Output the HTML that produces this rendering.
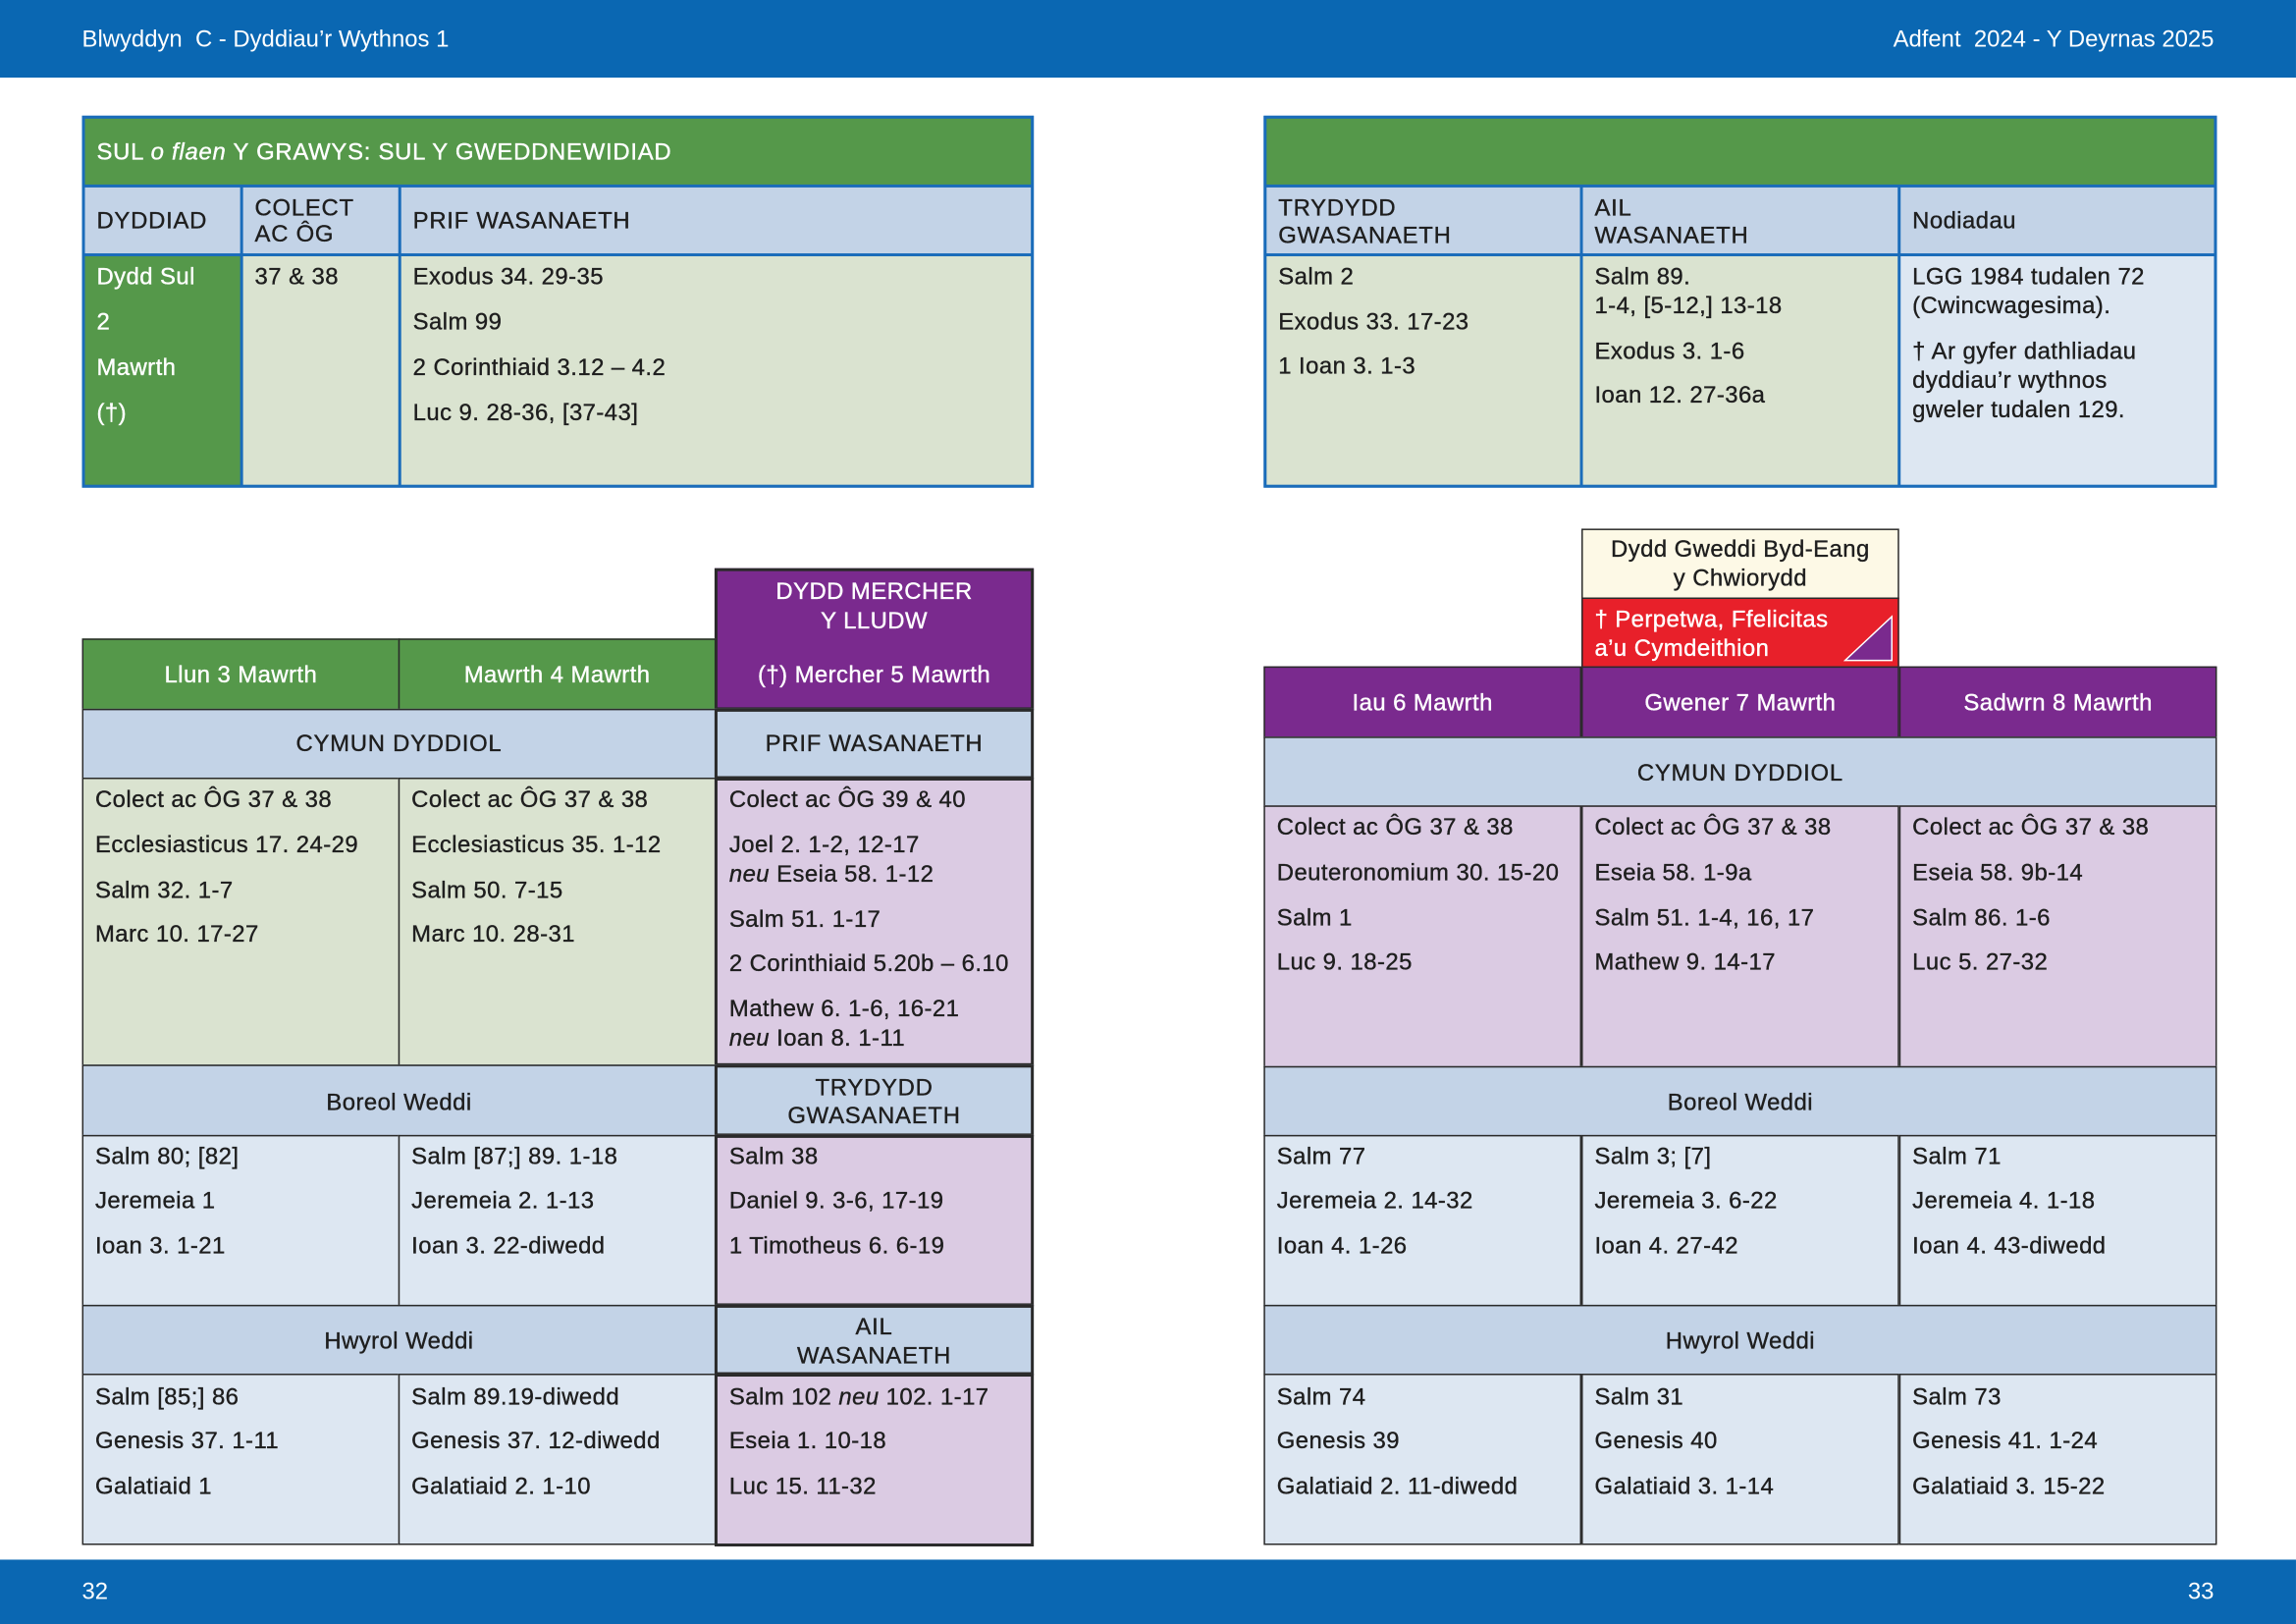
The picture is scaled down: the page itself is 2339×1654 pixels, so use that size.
<!DOCTYPE html>
<html><head><meta charset="utf-8"><style>
html,body{margin:0;padding:0;background:#fff;}
#page{position:relative;width:1568px;height:1109px;transform:scale(1.4917,1.4915);transform-origin:0 0;font-family:"Liberation Sans",sans-serif;color:#1e1e1e;overflow:hidden;}
.c{position:absolute;box-sizing:border-box;}
.t{position:absolute;left:8px;right:4px;font-size:16px;line-height:20px;white-space:nowrap;letter-spacing:0.3px;-webkit-text-stroke:0.25px currentColor;}
.ctr{text-align:center;left:0;right:0;}
.bar{position:absolute;left:0;width:1568px;background:#0a67b2;color:#fff;font-size:16px;}
</style></head><body>
<div id="page">
<div class="bar" style="top:0;height:53px">
 <span style="position:absolute;left:56px;top:19px">Blwyddyn&nbsp; C - Dyddiau’r Wythnos 1</span>
 <span style="position:absolute;right:56px;top:19px">Adfent&nbsp; 2024 - Y Deyrnas 2025</span>
</div>
<div class="bar" style="top:1065px;height:44px">
 <span style="position:absolute;left:56px;top:14px">32</span>
 <span style="position:absolute;right:56px;top:14px">33</span>
</div>
</div>
<script>
const G='#55984a',P='#7a2a8e',HB='#c3d3e7',LB='#dde7f2',LG='#dae3d0',LP='#dbcbe3',BL='#1a6cba',DK='#2a2a2a';
const page=document.getElementById('page');
function cell(x,y,w,h,bg,border,bw,lines,name,opts){
  opts=opts||{};
  const el=document.createElement('div');
  el.className='c';
  
  
  el.style.cssText+=`left:${x}px;top:${y}px;width:${w}px;height:${h}px;background:${bg};border:${bw}px solid ${border};`;
  (lines||[]).forEach(l=>{
    const s=document.createElement('div');
    s.className='t'+(opts.center?' ctr':'');
    
    
    s.style.top=(l[1]-y-8.5-bw)+'px';
    if(opts.color)s.style.color=opts.color;
    if(opts.ls)s.style.letterSpacing=opts.ls;
    s.innerHTML=l[0];
    el.appendChild(s);
  });
  page.appendChild(el);
  return el;
}
cell(56,79,650,254,BL,BL,2,[],'sunday-table');
cell(58,81,646,45,G,BL,0,[['SUL <i>o flaen</i> Y GRAWYS: SUL Y GWEDDNEWIDIAD',103]],'sunday-title',{color:'#fff',ls:'0.5px'});
cell(58,128,106,45,HB,BL,0,[['DYDDIAD',150]],'col-dyddiad',{ls:'0.5px'});
cell(166,128,106,45,HB,BL,0,[['COLECT',141],['AC ÔG',159]],'col-colect',{ls:'0.5px'});
cell(274,128,430,45,HB,BL,0,[['PRIF WASANAETH',150]],'col-prif',{ls:'0.5px'});
cell(58,175,106,156,G,BL,0,[['Dydd Sul',188],['2',219],['Mawrth',250],['(†)',281]],'sunday-date',{color:'#fff'});
cell(166,175,106,156,LG,BL,0,[['37 &amp; 38',188]],'sunday-collect');
cell(274,175,430,156,LG,BL,0,[['Exodus 34. 29-35',188],['Salm 99',219],['2 Corinthiaid 3.12 – 4.2',250],['Luc 9. 28-36, [37-43]',281]],'sunday-readings');
cell(863,79,651,254,BL,BL,2,[],'sunday-services-table');
cell(865,81,647,45,G,BL,0,[],'services-title');
cell(865,128,214,45,HB,BL,0,[['TRYDYDD',141],['GWASANAETH',160]],'col-trydydd',{ls:'0.5px'});
cell(1081,128,215,45,HB,BL,0,[['AIL',141],['WASANAETH',160]],'col-ail',{ls:'0.5px'});
cell(1298,128,214,45,HB,BL,0,[['Nodiadau',150]],'col-nodiadau');
cell(865,175,214,156,LG,BL,0,[['Salm 2',188],['Exodus 33. 17-23',219],['1 Ioan 3. 1-3',249]],'trydydd-readings');
cell(1081,175,215,156,LG,BL,0,[['Salm 89.',188],['1-4, [5-12,] 13-18',208],['Exodus 3. 1-6',239],['Ioan 12. 27-36a',269]],'ail-readings');
cell(1298,175,214,156,LB,BL,0,[['LGG 1984 tudalen 72',188],['(Cwincwagesima).',208],['† Ar gyfer dathliadau',239],['dyddiau’r wythnos',259],['gweler tudalen 129.',279]],'notes');
cell(488,388,218,97,P,DK,2,[['DYDD MERCHER',403],['Y LLUDW',423],['(†) Mercher 5 Mawrth',460]],'ash-wednesday-header',{center:true,color:'#fff'});
cell(56,436,217,49,G,DK,1,[['Llun 3 Mawrth',460]],'monday-header',{center:true,color:'#fff'});
cell(272,436,217,49,G,DK,1,[['Mawrth 4 Mawrth',460]],'tuesday-header',{center:true,color:'#fff'});
cell(56,484,433,48,HB,DK,1,[['CYMUN DYDDIOL',507]],'cymun-header-left',{center:true,ls:'0.5px'});
cell(488,484,218,48,HB,DK,2,[['PRIF WASANAETH',507]],'prif-header',{center:true,ls:'0.5px'});
cell(56,531,217,197,LG,DK,1,[['Colect ac ÔG 37 &amp; 38',545],['Ecclesiasticus 17. 24-29',576],['Salm 32. 1-7',607],['Marc 10. 17-27',637]],'monday-cymun');
cell(272,531,217,197,LG,DK,1,[['Colect ac ÔG 37 &amp; 38',545],['Ecclesiasticus 35. 1-12',576],['Salm 50. 7-15',607],['Marc 10. 28-31',637]],'tuesday-cymun');
cell(488,531,218,197,LP,DK,2,[['Colect ac ÔG 39 &amp; 40',545],['Joel 2. 1-2, 12-17',576],['<i>neu</i> Eseia 58. 1-12',596],['Salm 51. 1-17',627],['2 Corinthiaid 5.20b – 6.10',657],['Mathew 6. 1-6, 16-21',688],['<i>neu</i> Ioan 8. 1-11',708]],'wednesday-prif');
cell(56,727,433,49,HB,DK,1,[['Boreol Weddi',752]],'boreol-header-left',{center:true});
cell(488,727,218,49,HB,DK,2,[['TRYDYDD',742],['GWASANAETH',761]],'trydydd-header',{center:true,ls:'0.5px'});
cell(56,775,217,117,LB,DK,1,[['Salm 80; [82]',789],['Jeremeia 1',819],['Ioan 3. 1-21',850]],'monday-boreol');
cell(272,775,217,117,LB,DK,1,[['Salm [87;] 89. 1-18',789],['Jeremeia 2. 1-13',819],['Ioan 3. 22-diwedd',850]],'tuesday-boreol');
cell(488,775,218,117,LP,DK,2,[['Salm 38',789],['Daniel 9. 3-6, 17-19',819],['1 Timotheus 6. 6-19',850]],'wednesday-trydydd');
cell(56,891,433,48,HB,DK,1,[['Hwyrol Weddi',915]],'hwyrol-header-left',{center:true});
cell(488,891,218,48,HB,DK,2,[['AIL',905],['WASANAETH',925]],'ail-header',{center:true,ls:'0.5px'});
cell(56,938,217,117,LB,DK,1,[['Salm [85;] 86',953],['Genesis 37. 1-11',983],['Galatiaid 1',1014]],'monday-hwyrol');
cell(272,938,217,117,LB,DK,1,[['Salm 89.19-diwedd',953],['Genesis 37. 12-diwedd',983],['Galatiaid 2. 1-10',1014]],'tuesday-hwyrol');
cell(488,938,218,118,LP,DK,2,[['Salm 102 <i>neu</i> 102. 1-17',953],['Eseia 1. 10-18',983],['Luc 15. 11-32',1014]],'wednesday-ail');
cell(1080,361,217,48,'#fdf9e6',DK,1,[['Dydd Gweddi Byd-Eang',374],['y Chwiorydd',394]],'world-day-prayer',{center:true});
const red=cell(1080,408,217,48,'#e8202a',DK,1,[['† Perpetwa, Ffelicitas',422],['a’u Cymdeithion',442]],'perpetua-commemoration',{color:'#fff'});
red.insertAdjacentHTML('beforeend','<svg style="position:absolute;right:3px;bottom:3px" width="34" height="32"><polygon points="33,1 33,31 1,31" fill="#7a2a8e" stroke="#fff" stroke-width="1"/></svg>');
cell(863,455,217,49,P,DK,1,[['Iau 6 Mawrth',479]],'thursday-header',{center:true,color:'#fff'});
cell(1080,455,217,49,P,DK,1,[['Gwener 7 Mawrth',479]],'friday-header',{center:true,color:'#fff'});
cell(1297,455,217,49,P,DK,1,[['Sadwrn 8 Mawrth',479]],'saturday-header',{center:true,color:'#fff'});
cell(863,503,651,48,HB,DK,1,[['CYMUN DYDDIOL',527]],'cymun-header-right',{center:true,ls:'0.5px'});
cell(863,550,217,179,LP,DK,1,[['Colect ac ÔG 37 &amp; 38',564],['Deuteronomium 30. 15-20',595],['Salm 1',626],['Luc 9. 18-25',656]],'thursday-cymun');
cell(1080,550,217,179,LP,DK,1,[['Colect ac ÔG 37 &amp; 38',564],['Eseia 58. 1-9a',595],['Salm 51. 1-4, 16, 17',626],['Mathew 9. 14-17',656]],'friday-cymun');
cell(1297,550,217,179,LP,DK,1,[['Colect ac ÔG 37 &amp; 38',564],['Eseia 58. 9b-14',595],['Salm 86. 1-6',626],['Luc 5. 27-32',656]],'saturday-cymun');
cell(863,728,651,48,HB,DK,1,[['Boreol Weddi',752]],'boreol-header-right',{center:true});
cell(863,775,217,117,LB,DK,1,[['Salm 77',789],['Jeremeia 2. 14-32',819],['Ioan 4. 1-26',850]],'thursday-boreol');
cell(1080,775,217,117,LB,DK,1,[['Salm 3; [7]',789],['Jeremeia 3. 6-22',819],['Ioan 4. 27-42',850]],'friday-boreol');
cell(1297,775,217,117,LB,DK,1,[['Salm 71',789],['Jeremeia 4. 1-18',819],['Ioan 4. 43-diwedd',850]],'saturday-boreol');
cell(863,891,651,48,HB,DK,1,[['Hwyrol Weddi',915]],'hwyrol-header-right',{center:true});
cell(863,938,217,117,LB,DK,1,[['Salm 74',953],['Genesis 39',983],['Galatiaid 2. 11-diwedd',1014]],'thursday-hwyrol');
cell(1080,938,217,117,LB,DK,1,[['Salm 31',953],['Genesis 40',983],['Galatiaid 3. 1-14',1014]],'friday-hwyrol');
cell(1297,938,217,117,LB,DK,1,[['Salm 73',953],['Genesis 41. 1-24',983],['Galatiaid 3. 15-22',1014]],'saturday-hwyrol');
</script>
</body></html>
